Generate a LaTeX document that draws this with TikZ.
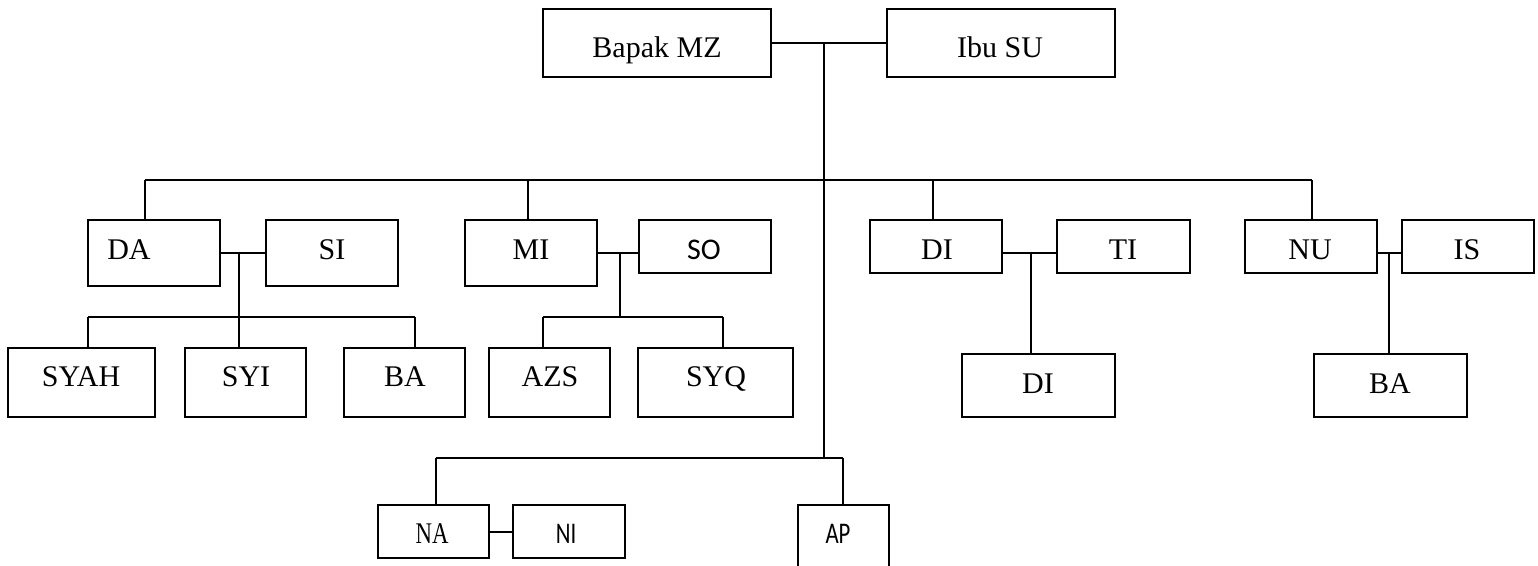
\documentclass[tikz,border=0pt]{standalone}
\usepackage{fontspec}
\setmainfont{Liberation Serif}
\newfontfamily\sansf{Carlito}
\begin{document}
\begin{tikzpicture}[x=1pt,y=-1pt,
  box/.style={draw,line width=1.8pt,inner sep=0pt,outer sep=0pt},
  txt/.style={anchor=base,inner sep=0pt,font=\fontsize{30}{36}\selectfont},
  stxt/.style={anchor=base,inner sep=0pt,font=\sansf\fontsize{30}{36}\selectfont},
  conn/.style={line width=1.8pt}]
\clip (0,0) rectangle (1538,565);
\fill[white] (0,0) rectangle (1538,565);
% boxes
\node[box,minimum width=228pt,minimum height=68pt] (bapak) at (657,43) {};
\node[box,minimum width=228pt,minimum height=68pt] (ibu) at (1001,43) {};
\node[box,minimum width=132pt,minimum height=66pt] (da) at (154,253) {};
\node[box,minimum width=132pt,minimum height=66pt] (si) at (332,253) {};
\node[box,minimum width=132pt,minimum height=66pt] (mi) at (531,253) {};
\node[box,minimum width=132pt,minimum height=53pt] (so) at (705,246.5) {};
\node[box,minimum width=132pt,minimum height=53pt] (di) at (936,246.5) {};
\node[box,minimum width=133pt,minimum height=53pt] (ti) at (1123.5,246.5) {};
\node[box,minimum width=132pt,minimum height=53pt] (nu) at (1311,246.5) {};
\node[box,minimum width=132pt,minimum height=53pt] (is) at (1468,246.5) {};
\node[box,minimum width=147pt,minimum height=69pt] (syah) at (81.5,382.5) {};
\node[box,minimum width=121pt,minimum height=69pt] (syi) at (245.5,382.5) {};
\node[box,minimum width=121pt,minimum height=69pt] (ba) at (404.5,382.5) {};
\node[box,minimum width=121pt,minimum height=69pt] (azs) at (549.5,382.5) {};
\node[box,minimum width=155pt,minimum height=69pt] (syq) at (715.5,382.5) {};
\node[box,minimum width=153pt,minimum height=63pt] (dii) at (1038.5,385.5) {};
\node[box,minimum width=153pt,minimum height=63pt] (baa) at (1390.5,385.5) {};
\node[box,minimum width=111pt,minimum height=53pt] (na) at (433.5,531.5) {};
\node[box,minimum width=112pt,minimum height=53pt] (ni) at (569,531.5) {};
\node[box,minimum width=91pt,minimum height=110pt] (ap) at (843.5,560) {};
% texts
\node[txt] (tbapak) at (657,57) {Bapak MZ};
\node[txt] (tibu) at (1000,57) {Ibu SU};
\node[txt] (tda) at (129,259) {DA};
\node[txt] (tsi) at (332,259) {SI};
\node[txt] (tmi) at (531,259) {MI};
\node[stxt] (tso) at (704,259) {SO};
\node[txt] (tdi) at (937,259) {DI};
\node[txt] (tti) at (1123,259) {TI};
\node[txt] (tnu) at (1310,259) {NU};
\node[txt] (tis) at (1467,259) {IS};
\node[txt] (tsyah) at (81,386) {SYAH};
\node[txt] (tsyi) at (246,386) {SYI};
\node[txt] (tba) at (405,386) {BA};
\node[txt] (tazs) at (550,386) {AZS};
\node[txt] (tsyq) at (716,386) {SYQ};
\node[txt] (tdii) at (1038,393) {DI};
\node[txt] (tbaa) at (1390,393) {BA};
\node[txt] (tna) at (432,543) {\scalebox{0.76}[1]{NA}};
\node[stxt] (tni) at (566,543) {\scalebox{0.76}[1]{NI}};
\node[stxt] (tap) at (838,543) {\scalebox{0.76}[1]{AP}};
% junctions
\coordinate (j0) at (824,43);
\coordinate (b2) at (824,458);
\coordinate (d1) at (145,180);
\coordinate (d2) at (528,180);
\coordinate (d3) at (933,180);
\coordinate (d4) at (1312,180);
\coordinate (j1) at (239,253);
\coordinate (s1) at (239,317);
\coordinate (s1a) at (88,317);
\coordinate (s1c) at (415,317);
\coordinate (j2) at (620,253);
\coordinate (s2) at (620,317);
\coordinate (s2a) at (543,317);
\coordinate (s2b) at (723,317);
\coordinate (j3) at (1031,253);
\coordinate (j4) at (1389,253);
\coordinate (e1) at (436,458);
\coordinate (e2) at (843,458);
\coordinate (j5) at (500,532);
% connectors
\draw[conn] (bapak.east) -- (ibu.west);
\draw[conn] (j0) -- (b2);
\draw[conn] (d1) -- (d4);
\draw[conn] (d1) -- (d1 |- da.north);
\draw[conn] (d2) -- (d2 |- mi.north);
\draw[conn] (d3) -- (d3 |- di.north);
\draw[conn] (d4) -- (d4 |- nu.north);
\draw[conn] (da.east |- j1) -- (si.west |- j1);
\draw[conn] (j1) -- (s1);
\draw[conn] (s1a) -- (s1c);
\draw[conn] (s1a) -- (s1a |- syah.north);
\draw[conn] (s1) -- (s1 |- syi.north);
\draw[conn] (s1c) -- (s1c |- ba.north);
\draw[conn] (mi.east |- j2) -- (so.west |- j2);
\draw[conn] (j2) -- (s2);
\draw[conn] (s2a) -- (s2b);
\draw[conn] (s2a) -- (s2a |- azs.north);
\draw[conn] (s2b) -- (s2b |- syq.north);
\draw[conn] (di.east |- j3) -- (ti.west |- j3);
\draw[conn] (j3) -- (j3 |- dii.north);
\draw[conn] (nu.east |- j4) -- (is.west |- j4);
\draw[conn] (j4) -- (j4 |- baa.north);
\draw[conn] (e1) -- (e2);
\draw[conn] (e1) -- (e1 |- na.north);
\draw[conn] (e2) -- (e2 |- ap.north);
\draw[conn] (na.east |- j5) -- (ni.west |- j5);
\end{tikzpicture}
\end{document}
